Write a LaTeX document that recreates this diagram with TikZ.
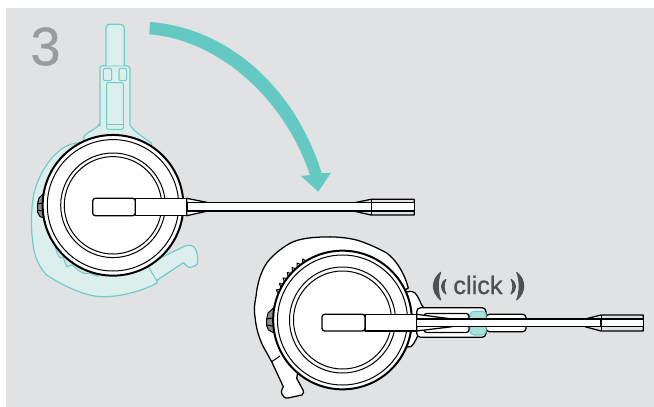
\documentclass[tikz,border=0pt]{standalone}
\usepackage{fontspec}
\setmainfont{Liberation Sans}
\newfontface\numface{Liberation Sans}[FakeBold=0.6]
\newfontface\clkface{Liberation Sans}[FakeBold=0.8]
\definecolor{bgc}{HTML}{E1E2E4}
\definecolor{tealc}{HTML}{64C8C3}
\definecolor{tealo}{HTML}{70CCC6}
\definecolor{tealf}{HTML}{DCEFED}
\definecolor{txtg}{HTML}{9A9B9D}
\definecolor{txtd}{HTML}{4F5052}
\tikzset{
  tealline/.style={draw=tealo,line width=0.9pt,fill=tealf,line join=round},
  tealthin/.style={draw=tealo,line width=0.8pt,line join=round},
  inkfill/.style={draw=black,line width=0.95pt,fill=white,line join=round},
  ink/.style={draw=black,line width=0.75pt,line join=round},
  inkbold/.style={draw=black,line width=1.5pt,fill=white},
  inkbg/.style={draw=black,line width=0.95pt,fill=bgc,line join=round},
  wave/.style={fill=txtd,draw=txtd,line width=0.8pt,line join=round},
}
\begin{document}
\begin{tikzpicture}[x=0.75pt,y=-0.75pt]
\useasboundingbox (0,0) rectangle (654,407);
\fill[white] (0,0) rectangle (654,407);
\fill[bgc] (6,8) rectangle (654,407);
% number
\node[text=txtg,font=\numface\fontsize{40.5}{41}\selectfont,inner sep=0pt] (num) at (45.5,46.5) {3};
% arrow
\fill[tealc] (150,22) .. controls (230,28) and (296,90) .. (321.7,173.3)
  -- (331,172.7) -- (318.3,191.7) -- (301,176) -- (310,175)
  .. controls (285,100) and (220,40) .. (149.3,34.3) -- cycle;
% ---------- upper headset: teal parts
\path[tealline] (100,126) -- (100,67) .. controls (100,66) and (102,65.7) .. (104,65.7)
  -- (126,65.7) .. controls (129,65.7) and (130,67) .. (130,69) -- (130,125)
  .. controls (134,132) and (142,136) .. (151.7,143.3) -- (151,150) -- (84,150) -- (84,136)
  .. controls (88,131) and (97,130) .. (100,123) -- cycle;
\path[tealline] (106,65.7) -- (106,28) .. controls (106,25) and (108,24.3) .. (110,24.3)
  -- (120,24.3) .. controls (123,24.3) and (124.3,26) .. (124.3,28) -- (124.3,65.7);
\draw[tealthin,rounded corners=1.5pt] (103.3,68.3) rectangle (111.7,80.7);
\draw[tealthin,rounded corners=1.5pt] (119,68.3) rectangle (126.7,80.7);
\draw[tealthin,rounded corners=1pt] (106.7,82.7) rectangle (123.3,129.3);
\draw[tealthin] (106.7,124.3) -- (123.3,124.3);
% teal ear hook
\path[tealline] (80,142.7) .. controls (70,143.5) and (63,147) .. (58,152)
  .. controls (45,163) and (36,182) .. (33.3,196.7)
  .. controls (31,212) and (31,228) .. (32.5,240)
  .. controls (34,258) and (40,268) .. (46.7,275)
  .. controls (60,284) and (85,297) .. (103.3,296.7)
  .. controls (120,297) and (142,291) .. (156.7,283.3)
  -- (157.3,280) -- (183.3,262.7)
  .. controls (186,265) and (188,268) .. (191,267.3)
  .. controls (195,266.5) and (198,264) .. (197.7,262)
  .. controls (198,256) and (197,250) .. (194,247)
  .. controls (191,244.5) and (187,245) .. (183.3,246.7)
  -- (160,258.3) -- (130,230) -- cycle;
\fill[bgc] (55,245) -- (57,253) -- (60,258) -- (63,257) -- (66.7,266.7) -- (72,265) -- (78,270) -- (83.3,273.3) -- (91,273.5) -- (98.3,276.7) -- (105,260) -- (60,235) -- cycle;
\draw[tealthin] (55,245) -- (57,253) -- (60,258) -- (63,257) -- (66.7,266.7) -- (72,265) -- (78,270) -- (83.3,273.3) -- (91,273.5) -- (98.3,276.7);
\draw[tealthin] (148.3,266.7) -- (156.7,280.7);
% upper side button
\draw[ink,fill=black!45] (43,194) -- (39,198) -- (37.5,204) -- (37.5,212) -- (40,216.5) -- (44,218) -- cycle;
\draw[ink] (37.5,204) -- (42.5,203);
\draw[ink] (37.5,210) -- (42.5,211);
% upper disc
\node[circle,inkbold,minimum size=105.5pt,inner sep=0pt] (disc) at (113,205.3) {};
\draw[ink] (disc.center) circle[radius=65.7];
\draw[ink] (disc.center) circle[radius=52.3];
\draw[ink] (disc.center) circle[radius=48.7];
% upper boom
\draw[inkfill] (186.7,198.3) -- (210,203) -- (210,210.5) -- (186.7,215.7) -- cycle;
\path[inkfill] (135.3,198.3) -- (186.7,198.3) -- (186.7,215.7) -- (135.3,215.7) -- cycle;
\path[inkfill,rounded corners=2pt] (135.3,198.3) -- (92.7,198.3) -- (92.7,215.7) -- (135.3,215.7) -- cycle;
\draw[inkbg] (353.3,203) -- (371,199.3) -- (414.3,199.3) -- (414.3,215) -- (371,215) -- (353.3,211) -- cycle;
\draw[inkfill] (187.3,202.7) rectangle (371.7,211);
\draw[black,line width=1.2pt] (187.3,211) -- (371.7,211);
\path[inkfill] (371.7,202.7) rectangle (414.3,211);
\draw[ink] (371.7,199.3) -- (371.7,215);
% ---------- lower headset: hook
\path[inkfill] (408.3,288) .. controls (404,272) and (396,260) .. (386.7,253)
  .. controls (376,247) and (366,243) .. (356.7,240)
  .. controls (342,236.5) and (328,236.5) .. (316.7,237.3)
  .. controls (305,238) and (296,240) .. (290,243.3)
  .. controls (280,249) and (272,256) .. (266.7,263)
  .. controls (260,273) and (257,286) .. (256,296.7)
  .. controls (254,306) and (254,312) .. (255,316.7)
  .. controls (256,328) and (259,338) .. (263.3,346.7)
  -- (271.7,361.7) -- (283.3,386.7)
  .. controls (281,390) and (281,394) .. (282.7,395)
  .. controls (284,398) and (286,398.5) .. (288,398)
  -- (302,395) .. controls (304,393.5) and (304,391) .. (303,390)
  -- (296.7,378.3) -- (300,360) -- (340,330) -- cycle;
\draw[ink] (271.7,361.7) -- (280,356);
% lower flare behind disc
\path[inkfill] (406.7,291.7) -- (412,291.5) .. controls (416,292) and (418,297) .. (421.7,305)
  -- (424,308) -- (424,328) -- (420,329) .. controls (418,336) and (415,343) .. (411,346.7)
  -- (406.7,347) -- (400,320) -- cycle;
% teeth
\begin{scope}[shift={(342.5,320)}]
  \foreach \a in {204,209.4,...,241}
    \draw[ink,fill=white] (\a-2:69) -- (\a+0.5:72.8) -- (\a+2.2:69);
\end{scope}
% lower side button
\draw[ink,fill=black!45] (273.5,308) -- (268,313) -- (266.7,319) -- (266.7,326) -- (268.5,330) -- (274,333) -- cycle;
\draw[ink] (266.7,319) -- (272.5,318);
\draw[ink] (266.7,325) -- (272.5,326);
% lower disc
\node[circle,inkbold,minimum size=104pt,inner sep=0pt] (discb) at (342.5,320) {};
\draw[ink] (discb.center) circle[radius=65];
\draw[ink] (discb.center) circle[radius=53];
\draw[ink] (discb.center) circle[radius=49];
% lower clip
\draw[inkfill,rounded corners=3pt] (416.7,307.7) -- (486,307.7) -- (486,337.3) -- (416.7,337.3) -- cycle;
\draw[inkfill,rounded corners=2.5pt] (486,314.3) -- (526,314.3) -- (526,331.7) -- (486,331.7) -- cycle;
\draw[tealline,fill=tealf!60!tealc,rounded corners=3pt] (470,311.2) rectangle (486,335);
\draw[inkfill,rounded corners=2pt] (469,313.5) -- (424,313.5) -- (424,332.5) -- (469,332.5) -- cycle;
% lower boom
\path[inkfill] (365,314.3) -- (416.7,314.3) -- (416.7,331) -- (365,331) -- cycle;
\path[inkfill,rounded corners=2pt] (365,314.3) -- (322,314.3) -- (322,331) -- (365,331) -- cycle;
\draw[inkfill] (416.7,314.3) -- (452,319) -- (452,326.7) -- (416.7,331) -- cycle;
\draw[inkbg] (585,319) -- (601,315) -- (643.3,315) -- (643.3,331) -- (601,331) -- (585,326.7) -- cycle;
\draw[inkfill] (416.7,319) rectangle (601,326.7);
\path[inkfill] (601,319) rectangle (643.3,326.7);
\draw[ink] (601,315) -- (601,331);
% click
\node[text=txtd,font=\clkface\fontsize{19}{19}\selectfont,inner sep=0pt] (clk) at (478,285) {click};
\path[wave] (440.7,272.3) .. controls (431,280) and (431,292) .. (440.7,300) .. controls (437.5,292) and (437.5,280) .. (440.7,272.3) -- cycle;
\path[wave] (446,279.3) .. controls (440,283) and (440,290) .. (446,294) .. controls (443.5,290) and (443.5,283) .. (446,279.3) -- cycle;
\path[wave] (516.7,272.3) .. controls (526,280) and (526,292) .. (516.7,300) .. controls (520,292) and (520,280) .. (516.7,272.3) -- cycle;
\path[wave] (511,279.3) .. controls (517,283) and (517,290) .. (511,294) .. controls (513.5,290) and (513.5,283) .. (511,279.3) -- cycle;
\end{tikzpicture}
\end{document}
